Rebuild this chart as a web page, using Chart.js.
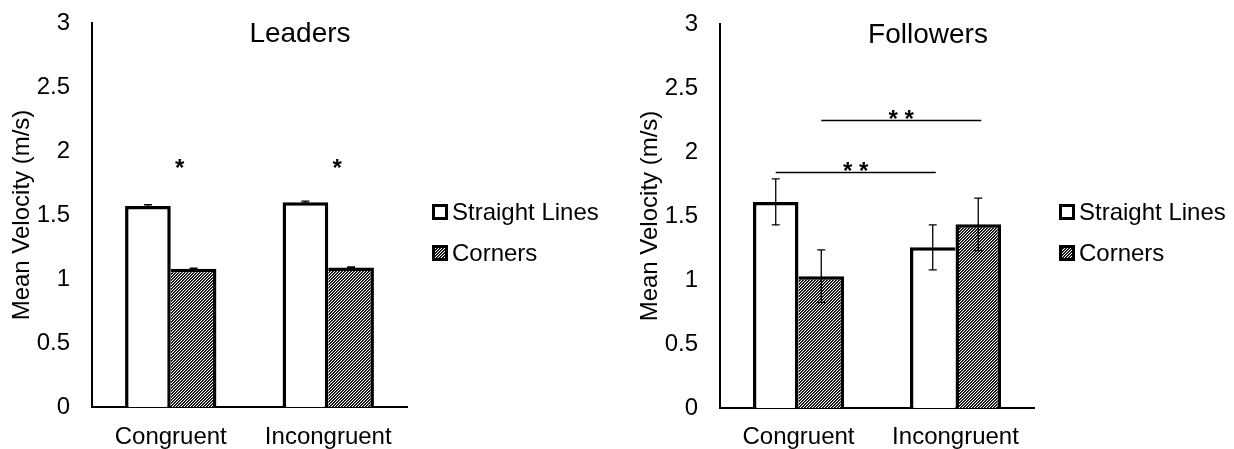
<!DOCTYPE html>
<html><head><meta charset="utf-8">
<script src="https://cdn.jsdelivr.net/npm/chart.js@4.4.1/dist/chart.umd.min.js"></script>
<style>
html,body{margin:0;padding:0;background:#fff;width:1234px;height:449px;overflow:hidden}
.c{position:absolute;top:0}
</style></head><body>
<canvas id="left" class="c" width="617" height="449" style="left:0"></canvas>
<canvas id="right" class="c" width="617" height="449" style="left:617px"></canvas>
<script>
// ---- data ----
const categories = ['Congruent', 'Incongruent'];
const seriesNames = ['Straight Lines', 'Corners'];
const leadersStraight = [1.57, 1.60];
const leadersCorners = [1.08, 1.09];
const leadersStraightErr = [0.01, 0.008];
const leadersCornersErr = [0.005, 0.005];
const followersStraight = [1.61, 1.255];
const followersCorners = [1.03, 1.435];
const followersStraightErr = [0.18, 0.176];
const followersCornersErr = [0.205, 0.205];
const yTickValues = [0, 0.5, 1, 1.5, 2, 2.5, 3];
const yTickLabels = ['0', '0.5', '1', '1.5', '2', '2.5', '3'];
const leadersStarLevels = [1.91, 1.91];          // "*" per category
const followersSigSeries = [0, 1];               // series compared Congruent vs Incongruent
const followersSigLevels = [1.84, 2.25];
const yAxisTitle = 'Mean Velocity (m/s)';

const F = "'Liberation Sans', Arial, sans-serif";
const BW = 3.5;

function hatchTile() {
  const c = document.createElement('canvas');
  c.width = 3; c.height = 3;
  const g = c.getContext('2d');
  const cols = ['#000', '#3a3a3a', '#fff'];
  for (let x = 0; x < 3; x++) for (let y = 0; y < 3; y++) {
    g.fillStyle = cols[(x + y) % 3];
    g.fillRect(x, y, 1, 1);
  }
  return c;
}
const tile = hatchTile();

function borderW(ctx) {
  if (ctx.dataIndex === undefined) return BW;
  const i = ctx.dataIndex, d = ctx.datasetIndex;
  const ds = ctx.chart.data.datasets;
  const mine = ds[d].data[i], other = ds[1 - d].data[i];
  if (d === 0) return {top: BW, left: BW, bottom: 0, right: mine >= other ? BW : 0};
  return {top: BW, right: BW, bottom: 0, left: mine > other ? BW : 0};
}

const annot = {
  id: 'annot',
  afterDatasetsDraw(chart, args, o) {
    const ctx = chart.ctx, xs = chart.scales.x, ys = chart.scales.y;
    ctx.save();
    // error bars
    ctx.strokeStyle = '#000'; ctx.lineWidth = 1.3;
    chart.data.datasets.forEach((ds, di) => {
      const meta = chart.getDatasetMeta(di);
      meta.data.forEach((bar, i) => {
        const v = ds.data[i], e = ds.errors[i];
        const x = bar.x, yT = ys.getPixelForValue(v + e), yB = ys.getPixelForValue(v - e);
        ctx.beginPath();
        ctx.moveTo(x, yT); ctx.lineTo(x, yB);
        ctx.moveTo(x - 4, yT); ctx.lineTo(x + 4, yT);
        ctx.moveTo(x - 4, yB); ctx.lineTo(x + 4, yB);
        ctx.stroke();
      });
    });
    ctx.fillStyle = '#000';
    ctx.textAlign = 'center'; ctx.textBaseline = 'alphabetic';
    ctx.font = 'bold 24px ' + F;
    // single stars
    (o.stars || []).forEach((lv, i) => {
      const x = xs.getPixelForValue(i) + 9, y = ys.getPixelForValue(lv);
      ctx.fillText('*', x, y + 13.6);
    });
    // comparison lines
    (o.sigSeries || []).forEach((s, k) => {
      const meta = chart.getDatasetMeta(s);
      const x0 = meta.data[0].x, x1 = meta.data[1].x + 3;
      const y = Math.round(ys.getPixelForValue(o.sigLevels[k])) + 0.5;
      ctx.lineWidth = 1.3;
      ctx.beginPath(); ctx.moveTo(x0, y); ctx.lineTo(x1, y); ctx.stroke();
      ctx.fillText('* *', (x0 + x1) / 2, y - 7 + 13.6);
    });
    // title
    ctx.font = '28px ' + F;
    ctx.fillText(o.title, o.titleX, o.titleY);
    // legend
    ctx.textAlign = 'left'; ctx.textBaseline = 'middle';
    ctx.font = '24px ' + F;
    chart.data.datasets.forEach((ds, di) => {
      const cy = o.legendY[di], bx = o.legendX;
      ctx.fillStyle = '#000';
      ctx.fillRect(bx, cy - 8, 16, 16);
      ctx.fillStyle = ds.backgroundColor;
      ctx.fillRect(bx + 3, cy - 5, 10, 10);
      ctx.fillStyle = '#000';
      ctx.fillText(ds.label, bx + 20, cy + 1);
    });
    ctx.restore();
  }
};

function makeChart(id, c) {
  const ctx = document.getElementById(id).getContext('2d');
  const hatch = ctx.createPattern(tile, 'repeat');
  return new Chart(ctx, {
    type: 'bar',
    data: {
      labels: categories,
      datasets: [
        {label: seriesNames[0], data: c.straight, errors: c.straightErr, backgroundColor: '#fff', borderColor: '#000', borderWidth: borderW, borderSkipped: 'start'},
        {label: seriesNames[1], data: c.corners, errors: c.cornersErr, backgroundColor: hatch, borderColor: '#000', borderWidth: borderW, borderSkipped: 'start'}
      ]
    },
    options: {
      responsive: false, animation: false, devicePixelRatio: 1,
      layout: {padding: {left: c.padLeft, right: c.padRight, top: c.padTop, bottom: 0}},
      datasets: {bar: {categoryPercentage: 0.58, barPercentage: 1}},
      plugins: {
        legend: {display: false}, tooltip: {enabled: false},
        annot: {title: c.title, titleX: c.titleX, titleY: c.titleY, stars: c.stars, sigSeries: c.sigSeries, sigLevels: c.sigLevels, legendX: c.legendX, legendY: [212, 253]}
      },
      scales: {
        x: {
          grid: {display: false}, border: {display: true, color: '#000', width: 2},
          ticks: {color: '#000', font: {family: F, size: 24}, padding: c.xPad, maxRotation: 0, autoSkip: false},
          afterFit(s) { s.height = c.xHeight; }
        },
        y: {
          min: 0, max: 3,
          grid: {display: false}, border: {display: true, color: '#000', width: 2},
          ticks: {color: '#000', font: {family: F, size: 24}, padding: 14,
            callback: (v) => { const i = yTickValues.indexOf(v); return i >= 0 ? yTickLabels[i] : ''; }},
          afterBuildTicks(s) { s.ticks = yTickValues.map(v => ({value: v})); },
          title: {display: true, text: yAxisTitle, color: '#000', font: {family: F, size: 24}, padding: {top: 8, bottom: 0}},
          afterFit(s) { s.width = 92; s.paddingTop = 0; s.paddingBottom = 0; }
        }
      }
    },
    plugins: [annot]
  });
}

makeChart('left', {
  straight: leadersStraight, corners: leadersCorners,
  straightErr: leadersStraightErr, cornersErr: leadersCornersErr,
  padLeft: 0, padRight: 210, padTop: 23, xHeight: 42, xPad: 7.6,
  title: 'Leaders', titleX: 300, titleY: 42,
  stars: leadersStarLevels, sigSeries: [], sigLevels: [],
  legendX: 432
});
makeChart('right', {
  straight: followersStraight, corners: followersCorners,
  straightErr: followersStraightErr, cornersErr: followersCornersErr,
  padLeft: 11, padRight: 200, padTop: 24, xHeight: 41, xPad: 6.6,
  title: 'Followers', titleX: 311, titleY: 43,
  stars: [], sigSeries: followersSigSeries, sigLevels: followersSigLevels,
  legendX: 442
});
</script>
</body></html>
